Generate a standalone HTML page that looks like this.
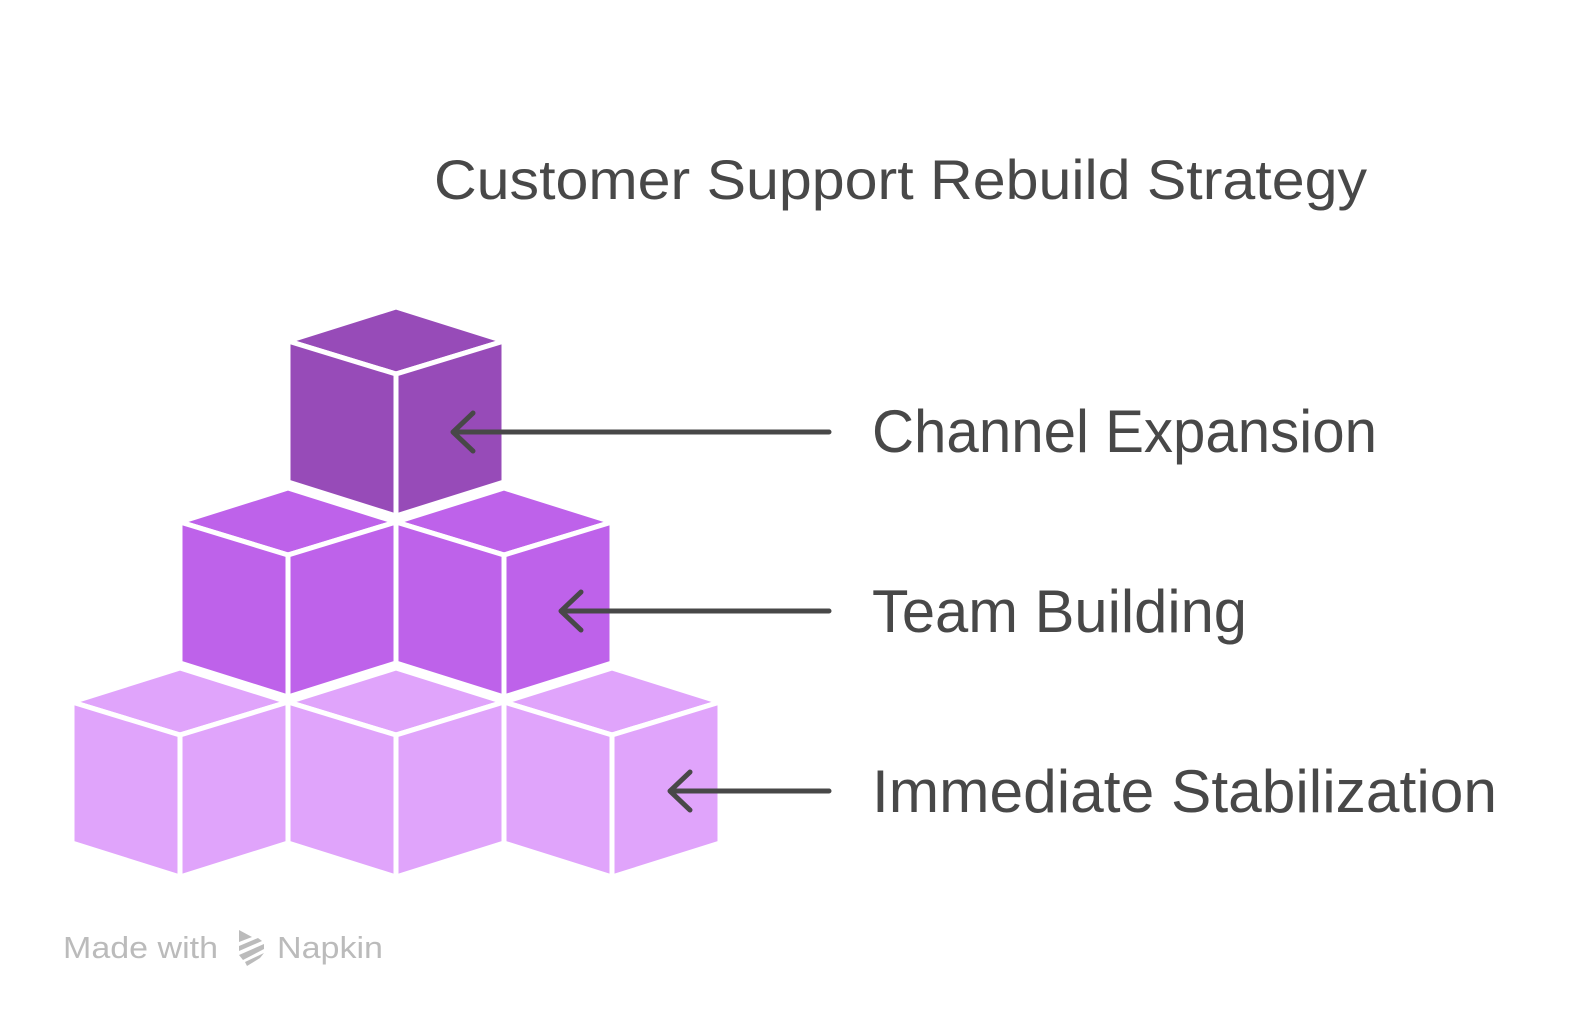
<!DOCTYPE html>
<html><head><meta charset="utf-8"><style>
html,body{margin:0;padding:0;background:#fff;}
svg{display:block;}
text{font-family:"Liberation Sans",sans-serif;}
</style></head><body>
<svg width="1584" height="1026" viewBox="0 0 1584 1026" xmlns="http://www.w3.org/2000/svg">
<defs>
<g id="cube">
  <polygon points="0,0 108,34 0,67 -108,34" />
  <polygon points="-108,34 0,67 0,209 -108,175" />
  <polygon points="108,34 0,67 0,209 108,175" />
</g>
</defs>
<g stroke="#fff" stroke-width="5" stroke-linejoin="miter">
  <g fill="#E0A4FB">
    <use href="#cube" x="180" y="668"/>
    <use href="#cube" x="396" y="668"/>
    <use href="#cube" x="612" y="668"/>
  </g>
  <g fill="#BE62EA">
    <use href="#cube" x="288" y="488"/>
    <use href="#cube" x="504" y="488"/>
  </g>
  <g fill="#974BB8">
    <use href="#cube" x="396" y="307"/>
  </g>
</g>
<g stroke="#484848" stroke-width="5" fill="none" stroke-linecap="round" stroke-linejoin="round">
  <path d="M829,432 H453 M473,413 L453,432 L473,451"/>
  <path d="M829,611 H561 M581,592 L561,611 L581,630"/>
  <path d="M829,791 H670 M690,772 L670,791 L690,810"/>
</g>
<g fill="#484848">
  <text x="434" y="199" font-size="56" textLength="933" lengthAdjust="spacingAndGlyphs">Customer Support Rebuild Strategy</text>
  <text x="872" y="452" font-size="60" textLength="505" lengthAdjust="spacingAndGlyphs">Channel Expansion</text>
  <text x="872" y="632" font-size="60" textLength="375" lengthAdjust="spacingAndGlyphs">Team Building</text>
  <text x="872" y="812" font-size="60" textLength="625" lengthAdjust="spacingAndGlyphs">Immediate Stabilization</text>
</g>
<g fill="#bbbbbb">
  <text x="63" y="958" font-size="31" textLength="155" lengthAdjust="spacingAndGlyphs">Made with</text>
  <text x="277" y="958" font-size="31" textLength="106" lengthAdjust="spacingAndGlyphs">Napkin</text>
  <polygon points="239,930 252,937 239,942"/>
  <polygon points="239,946 258,938 262,941 239,951"/>
  <polygon points="239,955 264,944 264,949 243,960"/>
  <polygon points="245,962 264,953 260,958 247,966"/>
</g>
</svg>
</body></html>
